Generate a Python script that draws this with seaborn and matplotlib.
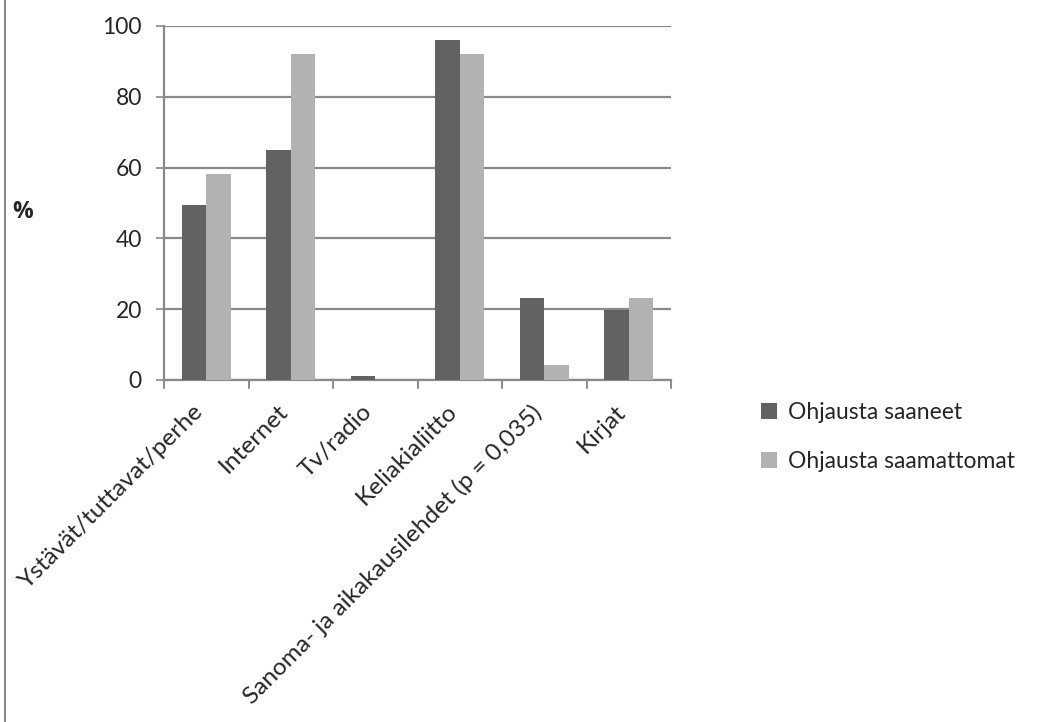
import matplotlib
matplotlib.use("Agg")
import matplotlib.pyplot as plt
import matplotlib.transforms as mtransforms
import seaborn as sns
import pandas as pd
from matplotlib.patches import Rectangle

categories = [
    "Ystävät/tuttavat/perhe",
    "Internet",
    "Tv/radio",
    "Keliakialiitto",
    "Sanoma- ja aikakausilehdet (p = 0,035)",
    "Kirjat",
]
series_names = ["Ohjausta saaneet", "Ohjausta saamattomat"]
saaneet = [49.3, 65.1, 1.2, 96.0, 23.3, 19.9]
saamattomat = [58.3, 92.1, 0.0, 92.1, 4.1, 23.3]
y_ticks = [0, 20, 40, 60, 80, 100]

df = pd.DataFrame({
    "kategoria": categories * 2,
    "ryhma": [series_names[0]] * len(categories) + [series_names[1]] * len(categories),
    "osuus": saaneet + saamattomat,
})

sns.set_style("white")
plt.rcParams["font.family"] = ["Lato", "DejaVu Sans"]
FS = 16.5

fig = plt.figure(figsize=(10.59, 7.22), dpi=100)
ax = fig.add_axes([164 / 1059, 1 - 380 / 722, (671 - 164) / 1059, (380 - 26) / 722])

palette = {series_names[0]: "#626262", series_names[1]: "#b2b2b2"}
sns.barplot(data=df, x="kategoria", y="osuus", hue="ryhma", order=categories,
            hue_order=series_names, palette=palette, width=0.58, gap=0,
            saturation=1, errorbar=None, linewidth=0, ax=ax, zorder=3)

ax.set_ylim(0, 100)
ax.set_xlim(-0.5, len(categories) - 0.5)
ax.set_yticks(y_ticks)
ax.set_yticklabels([str(t) for t in y_ticks], fontsize=FS)
ax.yaxis.grid(True, color="#8a8a8a", linewidth=1.6, zorder=0)
ax.set_axisbelow(True)
ax.set_xlabel("")
ax.set_ylabel("")

# category labels, rotated, ending under each group
ax.set_xticks(range(len(categories)))
ax.set_xticklabels(categories, rotation=45, ha="right", rotation_mode="anchor",
                   fontsize=17.6)
ax.tick_params(axis="x", length=0, pad=15)
ax.tick_params(axis="y", length=6, width=1.2, color="#8a8a8a", left=True, pad=10)
shift = mtransforms.ScaledTranslation(-14 / 100, 0, fig.dpi_scale_trans)
for lbl in ax.get_xticklabels():
    lbl.set_transform(lbl.get_transform() + shift)

# tick marks at group boundaries
for b in [i - 0.5 for i in range(len(categories) + 1)]:
    ax.plot([b, b], [0, -2.2], color="#8a8a8a", linewidth=1.4, clip_on=False, zorder=4)

for side in ["top", "right"]:
    ax.spines[side].set_visible(False)
for side in ["left", "bottom"]:
    ax.spines[side].set_color("#8a8a8a")
    ax.spines[side].set_linewidth(1.6)

leg = ax.legend(loc="upper left", bbox_to_anchor=(1.16, -0.035), frameon=False,
                fontsize=FS, handlelength=0.7, handleheight=0.7,
                handletextpad=0.45, labelspacing=1.25, borderaxespad=0)

fig.text(12 / 1059, 1 - 212 / 722, "%", fontsize=FS, fontweight="bold",
         family=["Open Sans", "DejaVu Sans"], va="center", ha="left")

fig.patches.append(Rectangle((5 / 1059, -0.01), 1.1, 1.1, transform=fig.transFigure,
                             fill=False, edgecolor="#8a8a8a", linewidth=1.5))

fig.savefig("out.png", dpi=100)
